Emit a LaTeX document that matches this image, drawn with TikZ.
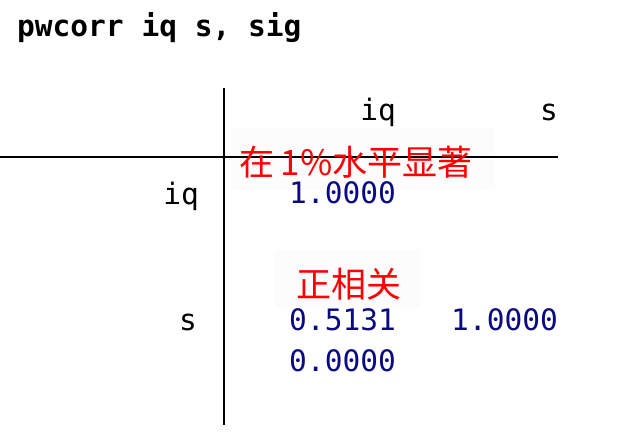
\documentclass[tikz,border=0pt]{standalone}
\usepackage{fontspec}
\setmonofont{DejaVu Sans Mono}
\newfontfamily\cjk{Noto Sans CJK SC}
\definecolor{numblue}{RGB}{10,10,130}
\definecolor{boxbg}{RGB}{252,252,252}
\tikzset{
  mono/.style={font=\fontsize{29.5}{31}\selectfont\ttfamily, inner sep=0pt},
  hdr/.style={mono, anchor=base east},
  num/.style={mono, anchor=base east, text=numblue},
  note/.style={font=\fontsize{35}{37}\selectfont\cjk, text=red, inner sep=0pt, anchor=base},
  bg/.style={fill=boxbg, draw=none},
  rule/.style={line width=1.8pt, black}
}
\begin{document}
\begin{tikzpicture}[x=1pt,y=-1pt]
\useasboundingbox (0,0) rectangle (622,446);
\fill[white] (0,0) rectangle (622,446);
% background boxes
\fill[bg] (230,128) rectangle (495,190);
\fill[bg] (275,250) rectangle (420,308);
% title
\node[mono, font=\fontsize{29.5}{31}\selectfont\ttfamily\bfseries, anchor=base west] (title) at (17,37) {pwcorr iq s, sig};
% rules
\coordinate (vtop) at (224,88);
\coordinate (vbot) at (224,425);
\coordinate (hl) at (0,157);
\coordinate (hr) at (558,157);
\draw[rule] (vtop) -- (vbot);
\draw[rule] (hl) -- (hr);
% headers
\node[hdr] (h1) at (396,121) {iq};
\node[hdr] (h2) at (558,121) {s};
% row labels
\node[hdr] (r1) at (199,205) {iq};
\node[hdr] (r2) at (197,331) {s};
% numbers
\node[num] (n11) at (396,204) {1.0000};
\node[num] (n21) at (396,331) {0.5131};
\node[num] (n22) at (558,331) {1.0000};
\node[num] (p21) at (396,372) {0.0000};
% notes
\node[note] (note1) at (356,176) {在\kern6pt 1\%水平显著};
\node[note] (note2) at (349,298) {正相关};
\end{tikzpicture}
\end{document}
